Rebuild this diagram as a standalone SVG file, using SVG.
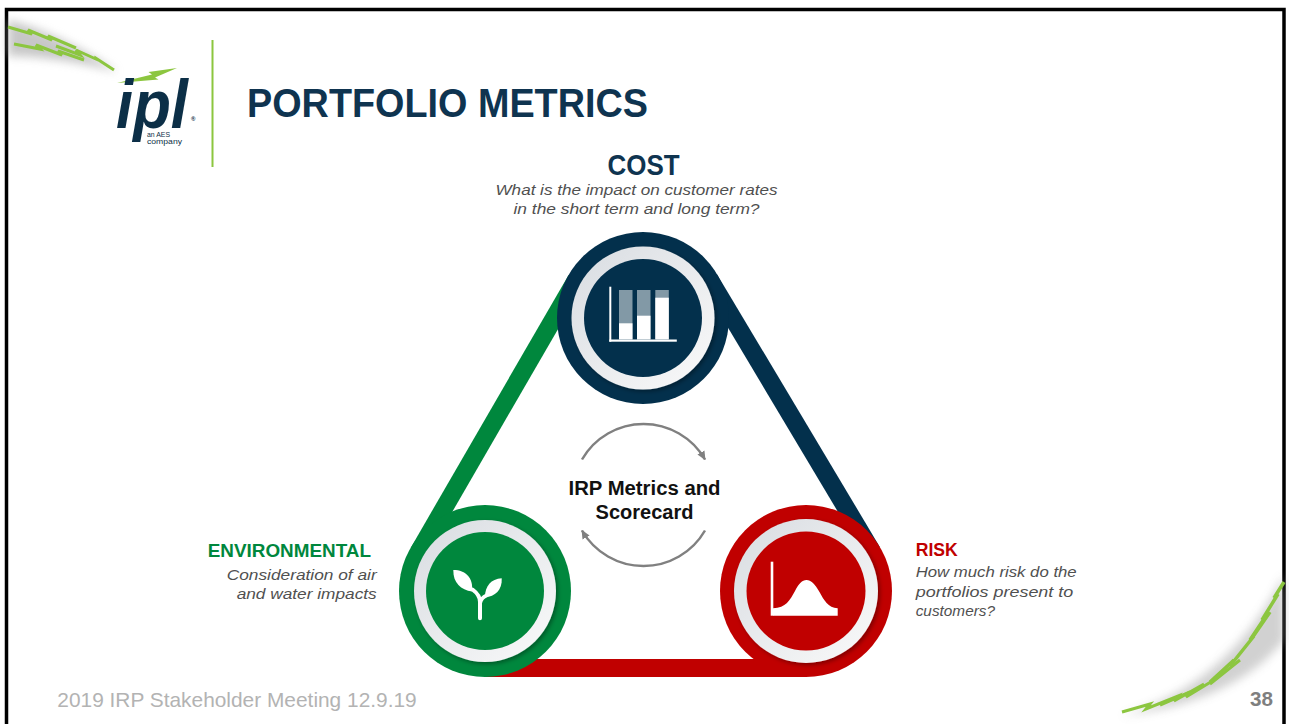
<svg xmlns="http://www.w3.org/2000/svg" width="1289" height="724" viewBox="0 0 1289 724">
  <style>
    .title{font-family:"Liberation Sans",Arial,sans-serif;font-weight:bold;fill:#0f3450}
    .head{font-family:"Liberation Sans",Arial,sans-serif;font-weight:bold}
    .logo{font-family:"Liberation Sans",Arial,sans-serif;font-weight:bold;font-style:italic;font-size:68px;fill:#0c2f47}
    .small{font-family:"Liberation Sans",Arial,sans-serif;font-size:7.5px;fill:#0c2f47}
    .desc{font-family:"Liberation Sans",Arial,sans-serif;font-style:italic;font-size:15px;fill:#505050}
    .center{font-family:"Liberation Sans",Arial,sans-serif;font-weight:bold;font-size:20px;fill:#111}
    .foot{font-family:"Liberation Sans",Arial,sans-serif;fill:#b3b3b3}
    .band{fill:none;stroke-width:18}
    .cycle{fill:none;stroke:#808080;stroke-width:2.5}
    .bolt{fill:none;stroke:#8cc63f;stroke-linejoin:miter}
    .white{fill:#fff}
  </style>
  <defs>
    <linearGradient id="ring" x1="0" y1="0" x2="1" y2="1">
      <stop offset="0" stop-color="#d8dce1"/>
      <stop offset="1" stop-color="#fafafa"/>
    </linearGradient>
    <filter id="ringShadow" x="-20%" y="-20%" width="140%" height="140%">
      <feDropShadow dx="2" dy="2" stdDeviation="2" flood-color="#000" flood-opacity="0.35"/>
    </filter>
    <filter id="haze" x="-30%" y="-30%" width="160%" height="160%">
      <feGaussianBlur stdDeviation="5"/>
    </filter>
    <filter id="soft" x="-10%" y="-10%" width="120%" height="120%">
      <feGaussianBlur stdDeviation="0.6"/>
    </filter>
    <marker id="arrow" viewBox="0 0 10 10" refX="9" refY="5" markerUnits="userSpaceOnUse" markerWidth="9" markerHeight="9" orient="auto">
      <path d="M0,0.5 L10,5 L0,9.5 z" fill="#808080"/>
    </marker>
  </defs>

  <rect x="0" y="0" width="1289" height="724" fill="#fff"/>
  <!-- slide frame -->
  <rect x="6.5" y="9.5" width="1277.5" height="800" fill="none" stroke="#000" stroke-width="3.5"/>

  <!-- top-left swoosh -->
  <g id="swoosh-top">
    <path d="M8,20 C40,28 80,46 118,72 C80,62 40,56 8,56 Z" fill="#9a9a9a" opacity="0.55" filter="url(#haze)"/>
    <g filter="url(#soft)">
      <polyline class="bolt" stroke-width="3" points="8,27 32,34 28,30 52,40 48,36 76,48"/>
      <polyline class="bolt" stroke-width="3" points="14,44 40,49 36,45 62,55 58,51 84,60"/>
      <polyline class="bolt" stroke-width="3" points="56,46 80,55 76,50 98,60 94,57 114,70"/>
    </g>
  </g>

  <!-- bottom-right swoosh -->
  <g id="swoosh-bottom">
    <path d="M1120,716 C1180,700 1240,660 1284,575 L1284,640 C1250,684 1190,708 1120,716 Z" fill="#9a9a9a" opacity="0.45" filter="url(#haze)"/>
    <g filter="url(#soft)">
      <polyline class="bolt" stroke-width="3" points="1122,712 1150,704 1146,709 1178,696 1174,701 1204,684"/>
      <polyline class="bolt" stroke-width="3" points="1160,705 1190,692 1186,697 1214,680 1210,684 1240,660"/>
      <polyline class="bolt" stroke-width="3.5" points="1210,682 1234,660 1230,666 1254,636 1250,641 1270,612"/>
      <polyline class="bolt" stroke-width="3.5" points="1250,640 1266,616 1262,620 1278,594 1274,598 1284,582"/>
    </g>
  </g>

  <!-- logo -->
  <g id="logo">
    <polygon points="117,83 152,74.5 148.5,72 177,68 155,77.5 158.5,79.5" fill="#8cc63f"/>
    <text x="116" y="128" class="logo" textLength="72" lengthAdjust="spacingAndGlyphs">ipl</text>
    <text x="191" y="121" class="head" font-size="6" fill="#0c2f47">®</text>
    <text x="147" y="136.5" class="small" textLength="23" lengthAdjust="spacingAndGlyphs">an AES</text>
    <text x="147" y="144" class="small" textLength="35" lengthAdjust="spacingAndGlyphs">company</text>
  </g>
  <rect x="211.5" y="40" width="2" height="127" fill="#8cc63f"/>

  <text x="247" y="116.7" class="title" font-size="40" textLength="401" lengthAdjust="spacingAndGlyphs">PORTFOLIO METRICS</text>

  <!-- belt segments joining the three metrics -->
  <g id="connectors">
    <line class="band" stroke="#00873d" x1="576.4" y1="279.4" x2="418.4" y2="552.4"/>
    <line class="band" stroke="#03304c" x1="709.1" y1="278.5" x2="872.1" y2="551.5"/>
    <line class="band" stroke="#c00000" x1="485" y1="668" x2="806" y2="668"/>
  </g>

  <!-- cost node -->
  <g id="cost">
    <circle cx="643" cy="318" r="86" fill="#03304c"/>
    <circle cx="643" cy="318" r="71.5" fill="url(#ring)" filter="url(#ringShadow)"/>
    <circle cx="643" cy="318" r="59" fill="#03304c"/>
    <rect x="609.3" y="286.7" width="2" height="55" class="white"/>
    <rect x="609.3" y="339.5" width="67.5" height="2.2" class="white"/>
    <rect x="619" y="290" width="13.5" height="49.5" fill="#8299a6"/>
    <rect x="637" y="290" width="13.5" height="49.5" fill="#8299a6"/>
    <rect x="655.3" y="290" width="13.5" height="49.5" fill="#8299a6"/>
    <rect x="619" y="323.3" width="13.5" height="16.2" class="white"/>
    <rect x="637" y="315.7" width="13.5" height="23.8" class="white"/>
    <rect x="655.3" y="297.7" width="13.5" height="41.8" class="white"/>
    <text x="643.5" y="175" class="head" font-size="30" fill="#0f3450" text-anchor="middle" textLength="72" lengthAdjust="spacingAndGlyphs">COST</text>
    <text x="636.5" y="195" class="desc" text-anchor="middle" textLength="282" lengthAdjust="spacingAndGlyphs">What is the impact on customer rates</text>
    <text x="636.5" y="214" class="desc" text-anchor="middle" textLength="246" lengthAdjust="spacingAndGlyphs">in the short term and long term?</text>
  </g>

  <!-- environmental node -->
  <g id="environmental">
    <circle cx="485" cy="591" r="86" fill="#00873d"/>
    <circle cx="485" cy="591" r="71" fill="url(#ring)" filter="url(#ringShadow)"/>
    <circle cx="485" cy="591" r="59" fill="#00873d"/>
    <path d="M453.3,570 C466,570 473.5,578 472,591.5 C461,590 453,583 453.3,570 Z" class="white"/>
    <path d="M501.7,578.3 C502.5,590 495,597 485,597 C485,586 491,579 501.7,578.3 Z" class="white"/>
    <path d="M480,618.3 L480,602 Q480,595 472.5,589.5 M480,603 Q481.5,597.5 486.5,595.5" fill="none" stroke="#fff" stroke-width="4" stroke-linecap="round"/>
    <text x="371" y="556.7" class="head" font-size="18.5" fill="#00873d" text-anchor="end" textLength="163.3" lengthAdjust="spacingAndGlyphs">ENVIRONMENTAL</text>
    <text x="376.7" y="580" class="desc" text-anchor="end" textLength="150" lengthAdjust="spacingAndGlyphs">Consideration of air</text>
    <text x="376.7" y="599.3" class="desc" text-anchor="end" textLength="140" lengthAdjust="spacingAndGlyphs">and water impacts</text>
  </g>

  <!-- risk node -->
  <g id="risk">
    <circle cx="806" cy="591" r="86" fill="#c00000"/>
    <circle cx="806" cy="591" r="72" fill="url(#ring)" filter="url(#ringShadow)"/>
    <circle cx="806" cy="591" r="59.5" fill="#c00000"/>
    <rect x="770.7" y="561.7" width="2.6" height="54" class="white"/>
    <path d="M773,608.3 C786,608 790,600 795,591 C799,583.5 802,580 806.5,580 C811,580 815,584 819.5,592 C824,600 828,608 837.7,608.3 L837.7,615.7 L773,615.7 Z" class="white"/>
    <text x="915.7" y="556" class="head" font-size="18.5" fill="#c00000" textLength="42" lengthAdjust="spacingAndGlyphs">RISK</text>
    <text x="915.7" y="576.7" class="desc" textLength="161" lengthAdjust="spacingAndGlyphs">How much risk do the</text>
    <text x="915.7" y="596.7" class="desc" textLength="157.6" lengthAdjust="spacingAndGlyphs">portfolios present to</text>
    <text x="915.7" y="616" class="desc" textLength="79.3" lengthAdjust="spacingAndGlyphs">customers?</text>
  </g>

  <!-- central cycle -->
  <g id="scorecard">
    <path class="cycle" d="M582,459.5 A71,71 0 0 1 705,459.5" marker-end="url(#arrow)"/>
    <path class="cycle" d="M705,530.5 A71,71 0 0 1 582,530.5" marker-end="url(#arrow)"/>
    <text x="644.5" y="495" class="center" text-anchor="middle" textLength="152" lengthAdjust="spacingAndGlyphs">IRP Metrics and</text>
    <text x="644.5" y="519.3" class="center" text-anchor="middle">Scorecard</text>
  </g>

  <!-- footer -->
  <text x="57.3" y="706.5" class="foot" font-size="21" textLength="359.4" lengthAdjust="spacingAndGlyphs">2019 IRP Stakeholder Meeting 12.9.19</text>
  <text x="1250" y="706" class="head" font-size="21" fill="#7f7f7f" textLength="23" lengthAdjust="spacingAndGlyphs">38</text>
</svg>
